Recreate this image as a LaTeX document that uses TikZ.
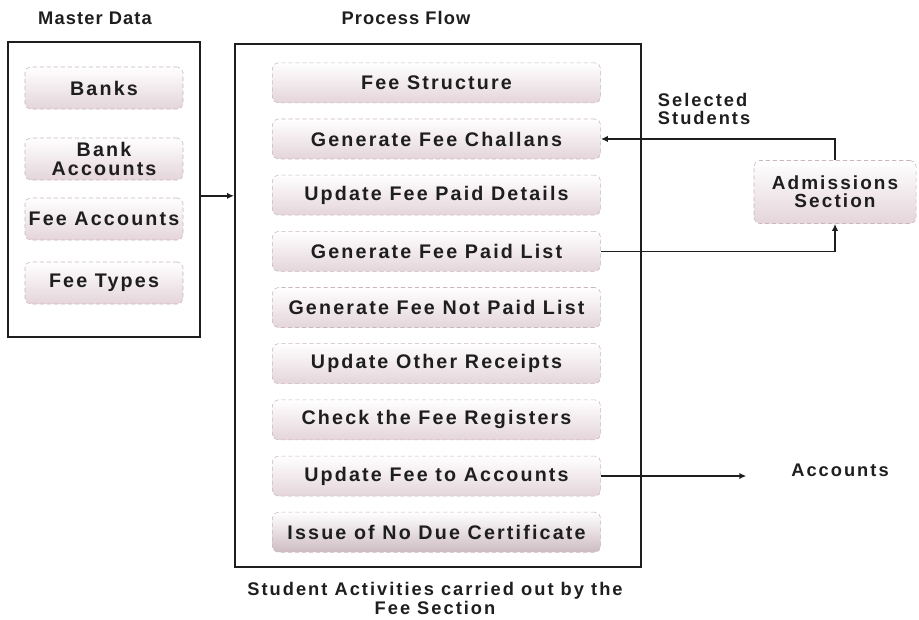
\documentclass[tikz,border=0pt]{standalone}
\usepackage{fontspec}
\setmainfont{Liberation Sans}
\newfontfamily\boxfont[LetterSpace=11]{Liberation Sans}
\newfontfamily\headfont[LetterSpace=6]{Liberation Sans}
\usetikzlibrary{positioning,matrix,arrows.meta}
\definecolor{ink}{HTML}{1E1E1E}
\definecolor{boxline}{HTML}{C9B7BE}
\definecolor{boxfill}{HTML}{E4D5DA}
\definecolor{boxdark}{HTML}{CDBCC2}

\begin{document}
\begin{tikzpicture}[x=0.025cm, y=-0.025cm,
        lbl/.style={font=\boxfont\bfseries\fontsize{13}{13}\selectfont, text=ink},
        head/.style={font=\headfont\bfseries\fontsize{13}{13}\selectfont, text=ink},
        tile/.style={font=\boxfont\bfseries\fontsize{14}{13}\selectfont, text=ink,
          draw=boxline, densely dashed, rounded corners=4pt,
          top color=white, bottom color=boxfill, align=center, inner sep=2pt},
        stack/.style={matrix of nodes, ampersand replacement=\&,
          nodes={tile}},
        mbox/.style={tile, minimum width=3.95cm, minimum height=1.05cm},
        frame/.style={draw=ink, line width=1.3pt},
        flow/.style={draw=ink, line width=1pt, -{Latex[length=5pt,width=4.5pt]}}
        ]
        \useasboundingbox (0,0) rectangle (919,619);

        % titles
        \node[head] (mdt) at (95,18) {Master Data};
        \node[head] (pft) at (406,18) {Process Flow};

        % outer boxes
        \node[frame, minimum width=4.8cm, minimum height=7.375cm] (md) at (104,189.5) {};
        \node[frame, minimum width=10.15cm, minimum height=13.075cm] (pf) at (438,305.5) {};

        % master data
        \node[mbox] (banks) at (104,88) {Banks};
        \node[mbox] (bacc) at (104,159) {Bank\\Accounts};
        \node[mbox] (facc) at (104,219) {Fee Accounts};
        \node[mbox] (ftyp) at (104,283) {Fee Types};

        % process flow
        \matrix[stack, row sep=0.39cm,
          nodes={minimum width=8.2cm, minimum height=1cm}] (PF) at (436.5,307.5) {
          Fee Structure\\
          Generate Fee Challans\\
          Update Fee Paid Details\\
          Generate Fee Paid List\\
          Generate Fee Not Paid List\\
          Update Other Receipts\\
          Check the Fee Registers\\
          Update Fee to Accounts\\
          |[bottom color=boxdark]| Issue of No Due Certificate\\
        };

        \node[tile, font=\boxfont\bfseries\fontsize{13.5}{13}\selectfont,
          minimum width=4.05cm, minimum height=1.575cm] (adm) at (835,192) {Admissions\\Section};
        \node[lbl, align=left, anchor=west] (sel) at (653,109) {Selected\\Students};
        \node[lbl] (acc) at (840,470) {Accounts};

        \node[lbl, align=center, font=\boxfont\bfseries\fontsize{13}{13.5}\selectfont] (cap) at (435,598)
          {Student Activities carried out by the\\Fee Section};

        % connectors
        \draw[flow] ([yshift=-4.5pt]md.east) -- ([yshift=-4.5pt]md.east -| pf.west);
        \draw[flow] (adm.north) |- (PF-2-1.east);
        \draw[flow] (PF-4-1.east) -| (adm.south);
        \draw[flow, shorten >=1cm] (PF-8-1.east) -- (PF-8-1.east -| acc.west);
      \end{tikzpicture}
\end{document}
